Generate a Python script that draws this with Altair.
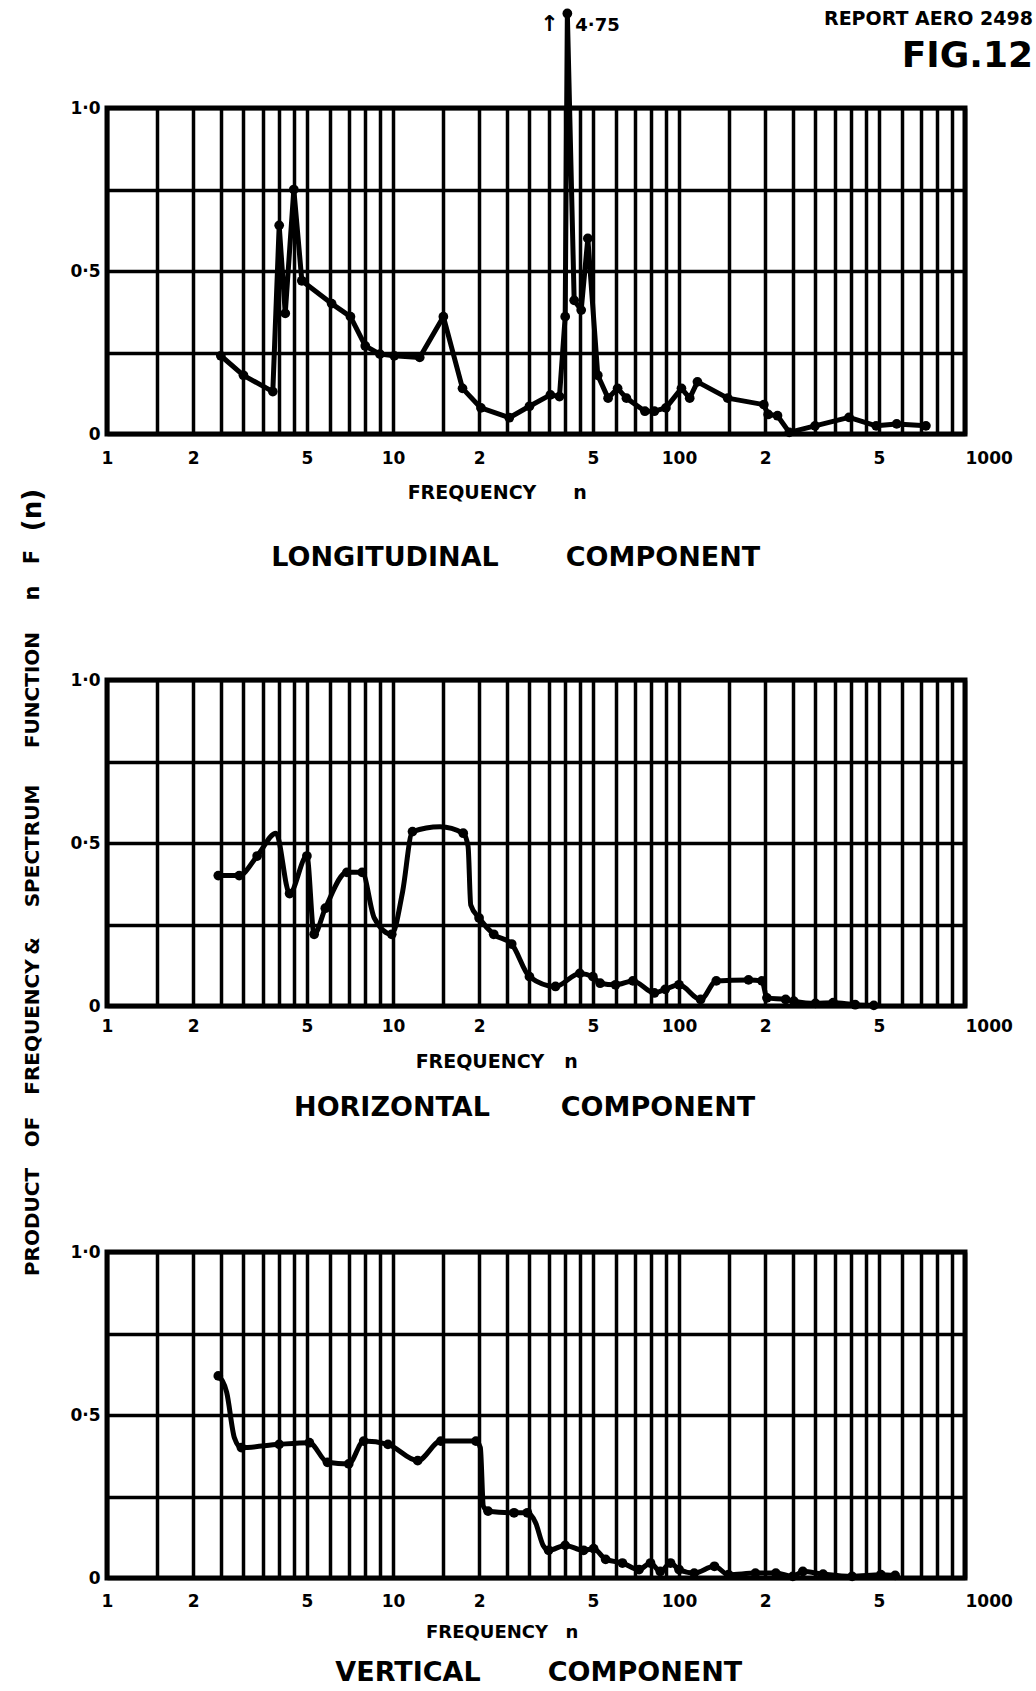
import altair as alt
import pandas as pd

FONT = "DejaVu Sans"

# ---------------- data ----------------
# Longitudinal component: frequency n, product n F(n), marker flag
long_freq = [2.5, 3.0, 3.8, 4.0, 4.2, 4.5, 4.8, 6.1, 7.1, 8.0, 9.0, 10.1, 12.4, 15.0,
             17.5, 20.3, 25.5, 30.0, 35.5, 38.2, 40.0, 40.7, 43.0, 45.5, 48.0, 52.0,
             56.5, 61.0, 65.5, 76.0, 82.0, 90.0, 102.0, 109.0, 116.0, 148.0, 198.0,
             205.0, 221.0, 243.0, 299.0, 393.0, 489.0, 577.0, 730.0]
long_val = [0.24, 0.18, 0.13, 0.64, 0.37, 0.75, 0.47, 0.40, 0.36, 0.27, 0.245, 0.24, 0.235,
            0.36, 0.14, 0.08, 0.05, 0.085, 0.12, 0.115, 0.36, 4.75, 0.41, 0.38, 0.60, 0.18,
            0.11, 0.14, 0.11, 0.07, 0.07, 0.08, 0.14, 0.11, 0.16, 0.11, 0.09, 0.06, 0.056,
            0.005, 0.025, 0.051, 0.025, 0.031, 0.025]
long_dot = [1] * len(long_freq)

# Horizontal component
horiz_freq = [2.45, 2.9, 3.35, 3.9, 4.35, 5.0, 5.3, 5.8, 6.9, 7.8, 8.6, 9.9, 10.8, 11.7,
              14.6, 17.6, 18.3, 18.7, 20.0, 22.5, 26.0, 30.0, 37.0, 45.0, 50.0, 53.0, 60.0,
              69.0, 82.0, 89.5, 100.0, 119.0, 135.0, 175.0, 195.0, 203.0, 236.0, 252.0,
              300.0, 346.0, 413.0, 480.0]
horiz_val = [0.40, 0.40, 0.46, 0.53, 0.345, 0.46, 0.22, 0.30, 0.41, 0.41, 0.27, 0.22, 0.35,
             0.535, 0.55, 0.53, 0.49, 0.31, 0.27, 0.22, 0.19, 0.09, 0.06, 0.10, 0.09, 0.07,
             0.065, 0.077, 0.04, 0.051, 0.065, 0.02, 0.077, 0.08, 0.077, 0.025, 0.02, 0.015,
             0.008, 0.01, 0.004, 0.002]
horiz_dot = [1, 1, 1, 0, 1, 1, 1, 1, 1, 1, 0, 1, 0, 1, 0, 1, 0, 0, 1, 1, 1, 1, 1, 1, 1, 1,
             1, 1, 1, 1, 1, 1, 1, 1, 1, 1, 1, 1, 1, 1, 1, 1]

# Vertical component
vert_freq = [2.45, 2.62, 2.79, 2.95, 4.0, 5.1, 5.9, 7.0, 7.9, 9.6, 12.2, 14.7, 19.5, 20.2,
             20.7, 21.5, 26.5, 29.5, 31.5, 33.5, 35.0, 40.0, 46.4, 50.3, 55.4, 63.4, 72.5,
             79.5, 86.0, 93.4, 100.0, 113.0, 133.0, 149.0, 185.0, 218.0, 250.0, 271.0,
             319.0, 403.0, 508.0, 570.0]
vert_val = [0.62, 0.57, 0.43, 0.40, 0.41, 0.415, 0.355, 0.35, 0.42, 0.41, 0.36, 0.42, 0.42,
            0.40, 0.22, 0.205, 0.20, 0.20, 0.17, 0.10, 0.085, 0.10, 0.085, 0.09, 0.057, 0.046,
            0.026, 0.046, 0.02, 0.046, 0.026, 0.015, 0.036, 0.01, 0.015, 0.015, 0.005, 0.02,
            0.012, 0.005, 0.01, 0.008]
vert_dot = [1, 0, 0, 1, 1, 1, 1, 1, 1, 1, 1, 1, 1, 0, 0, 1, 1, 1, 0, 0, 1, 1, 1, 1, 1, 1, 1,
            1, 1, 1, 1, 1, 1, 1, 1, 1, 1, 1, 1, 1, 1, 1]

# Axis ticks / grid
grid_mult = [1, 1.5, 2, 2.5, 3, 3.5, 4, 4.5, 5, 6, 7, 8, 9]
grid_x = [m * 10 ** d for d in range(3) for m in grid_mult] + [1000]
x_tick_values = [1, 2, 5, 10, 20, 50, 100, 200, 500, 1000]
x_tick_labels = ["1", "2", "5", "10", "2", "5", "100", "2", "5", "1000"]
grid_y = [0, 0.25, 0.5, 0.75, 1.0]
y_tick_values = [0, 0.5, 1.0]
y_tick_labels = ["0", "0·5", "1·0"]

# Texts
header_report = "REPORT AERO 2498"
header_fig = "FIG.12"
freq_word = "FREQUENCY"
freq_sym = "n"
titles = [("LONGITUDINAL", "COMPONENT"), ("HORIZONTAL", "COMPONENT"), ("VERTICAL", "COMPONENT")]
y_title_words = ["PRODUCT", "OF", "FREQUENCY", "&", "SPECTRUM", "FUNCTION", "n", "F", "(n)"]

BROKEN_TOP = 1.29  # plotted height of values beyond the top of the frame

W, H = 858, 326
LINE_W = 5
GRID_W = 3.5


def expr_map(values, labels):
    e = "''"
    for v, l in reversed(list(zip(values, labels))):
        e = f"datum.value == {v} ? '{l}' : {e}"
    return e


def text(txt, x, y, size, angle=0, align="center"):
    return alt.Chart(pd.DataFrame({"t": [txt]})).mark_text(
        font=FONT, fontWeight="bold", fontSize=size, angle=angle, align=align,
        baseline="middle", color="black"
    ).encode(text="t:N", x=alt.value(x), y=alt.value(y))


def panel(freq, val, dots, interp, label_pad, extra):
    df = pd.DataFrame({"freq": freq, "value": val, "dot": dots})
    x = alt.X("freq:Q",
              scale=alt.Scale(type="log", domain=[1, 1000], nice=False),
              axis=alt.Axis(values=grid_x, grid=True, gridColor="black", gridWidth=GRID_W,
                            gridOpacity=1, ticks=False, domain=False,
                            labelExpr=expr_map(x_tick_values, x_tick_labels),
                            labelFont=FONT, labelFontWeight="bold", labelFontSize=17,
                            labelColor="black", labelPadding=label_pad,
                            labelOverlap=False, labelFlush=False,
                            labelAlign={"condition": {"test": "datum.value == 1000",
                                                      "value": "left"},
                                        "value": "center"},
                            title=None))
    y = alt.Y("shown:Q",
              scale=alt.Scale(domain=[0, 1], nice=False),
              axis=alt.Axis(values=grid_y, grid=True, gridColor="black", gridWidth=GRID_W,
                            gridOpacity=1, ticks=False, domain=False,
                            labelExpr=expr_map(y_tick_values, y_tick_labels),
                            labelFont=FONT, labelFontWeight="bold", labelFontSize=17,
                            labelColor="black", labelPadding=7, title=None))
    base = alt.Chart(df).transform_calculate(shown=f"min(datum.value, {BROKEN_TOP})")
    line = base.mark_line(color="black", strokeWidth=LINE_W, interpolate=interp,
                          strokeJoin="round", strokeCap="round").encode(x=x, y=y)
    pts = base.transform_filter("datum.dot == 1").mark_circle(
        color="black", size=95, opacity=1).encode(x=x, y=y)
    return alt.layer(line, pts, *extra).properties(width=W, height=H)


# ---------------- longitudinal ----------------
long_df = pd.DataFrame({"freq": long_freq, "value": long_val})
peak = alt.Chart(long_df).transform_filter(f"datum.value > {BROKEN_TOP}")
peak_x = alt.X("freq:Q", scale=alt.Scale(type="log", domain=[1, 1000], nice=False))
arrow = peak.mark_text(text="↑", font=FONT, fontWeight="bold", fontSize=22, dx=-18,
                       color="black").encode(x=peak_x, y=alt.value(-84))
peak_label = peak.transform_calculate(
    lab="replace(format(datum.value, '.2f'), '.', '·')"
).mark_text(font=FONT, fontWeight="bold", fontSize=18, dx=8, align="left",
            color="black").encode(x=peak_x, y=alt.value(-82), text="lab:N")
anchor = alt.Chart(pd.DataFrame({"a": [0]})).mark_rule(
    strokeOpacity=0, strokeWidth=1
).encode(x=alt.value(-104), x2=alt.value(-98), y=alt.value(-105), y2=alt.value(-105))

top = panel(long_freq, long_val, long_dot, "linear", 16, [
    arrow, peak_label, anchor,
    text(header_report, 926, -89, 19, align="right"),
    text(header_fig, 926, -52, 36, align="right"),
    text(freq_word, 365, 385, 19),
    text(freq_sym, 473, 385, 19),
    text(titles[0][0], 278, 450, 27),
    text(titles[0][1], 556, 450, 27),
])

# ---------------- horizontal ----------------
y_title = [
    text(y_title_words[0], -74, 542, 20, angle=270),
    text(y_title_words[1], -74, 452, 20, angle=270),
    text(y_title_words[2], -74, 347, 20, angle=270),
    text(y_title_words[3], -74, 266, 20, angle=270),
    text(y_title_words[4], -74, 166, 20, angle=270),
    text(y_title_words[5], -74, 10, 20, angle=270),
    text(y_title_words[6], -74, -87, 21, angle=270),
    text(y_title_words[7], -74, -123, 21, angle=270),
    text(y_title_words[8], -74, -170, 26, angle=270),
]
mid = panel(horiz_freq, horiz_val, horiz_dot, "monotone", 12, y_title + [
    text(freq_word, 373, 382, 19),
    text(freq_sym, 464, 382, 19),
    text(titles[1][0], 285, 428, 27),
    text(titles[1][1], 551, 428, 27),
])

# ---------------- vertical ----------------
bot = panel(vert_freq, vert_val, vert_dot, "monotone", 15, [
    text(freq_word, 380, 381, 18),
    text(freq_sym, 465, 381, 18),
    text(titles[2][0], 301, 421, 27),
    text(titles[2][1], 538, 421, 27),
])

chart = alt.vconcat(top, mid, bot, spacing=246, bounds="flush").properties(
    padding=0, background="white"
).configure_view(stroke="black", strokeWidth=5)

chart.save("out.html", embed_options={"renderer": "svg", "actions": False})
